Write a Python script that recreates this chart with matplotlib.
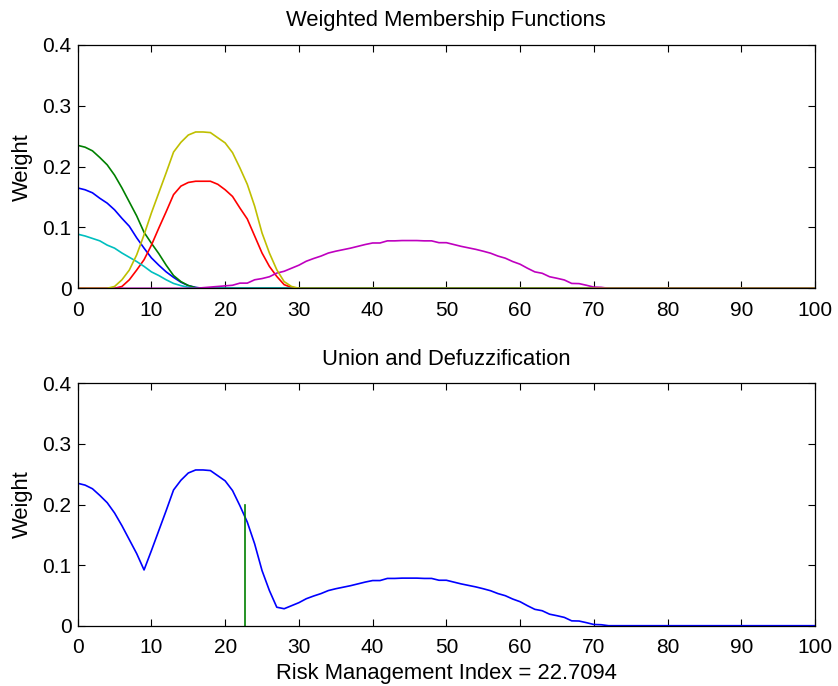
import numpy as np
import matplotlib
matplotlib.use("Agg")
import matplotlib.pyplot as plt

plt.rcParams['font.family'] = ['Liberation Sans', 'DejaVu Sans']

# sample grid of the output variable (0..100)
x = np.arange(0, 101)

blue = [0.165, 0.162, 0.157, 0.148, 0.140, 0.129, 0.115, 0.102, 0.083, 0.066,
        0.050, 0.038, 0.027, 0.018, 0.010, 0.0045, 0.0015] + [0.0] * 84
green = [0.235, 0.232, 0.226, 0.215, 0.203, 0.186, 0.165, 0.142, 0.119, 0.092,
         0.074, 0.057, 0.038, 0.021, 0.011, 0.0045, 0.001] + [0.0] * 84
red = [0.0, 0.0, 0.0, 0.0, 0.0, 0.0, 0.003, 0.014, 0.030, 0.047,
       0.071, 0.099, 0.126, 0.154, 0.168, 0.174, 0.176, 0.176, 0.176, 0.171,
       0.162, 0.151, 0.132, 0.114, 0.086, 0.058, 0.036, 0.0195, 0.006, 0.0014] + [0.0] * 71
cyan = [0.089, 0.086, 0.082, 0.078, 0.071, 0.066, 0.058, 0.051, 0.044, 0.036,
        0.027, 0.021, 0.014, 0.008, 0.0044, 0.0016] + [0.0] * 85
magenta = [0.0] * 17 + [0.001, 0.002, 0.003,
           0.004, 0.005, 0.0085, 0.0085, 0.014, 0.016, 0.019, 0.025, 0.028, 0.033,
           0.038, 0.0445, 0.049, 0.053, 0.058, 0.061, 0.0635, 0.066, 0.069, 0.072,
           0.0745, 0.0745, 0.078, 0.078, 0.0785, 0.0785, 0.0785, 0.078, 0.078, 0.075,
           0.075, 0.072, 0.069, 0.0665, 0.064, 0.061, 0.0577, 0.053, 0.0495, 0.044,
           0.0396, 0.033, 0.027, 0.0247, 0.019, 0.0165, 0.0137, 0.008, 0.0077, 0.005,
           0.002, 0.0016] + [0.0] * 29
yellow = [0.0, 0.0, 0.0, 0.0, 0.0, 0.003, 0.014, 0.030, 0.055, 0.088,
          0.124, 0.157, 0.190, 0.224, 0.240, 0.252, 0.257, 0.257, 0.256, 0.2475,
          0.239, 0.223, 0.198, 0.171, 0.135, 0.091, 0.058, 0.0305, 0.011, 0.003] + [0.0] * 71

defuzz_value = 22.7094
defuzz_height = 0.2

series = [
    (blue, (0, 0, 1)),
    (green, (0, 0.5, 0)),
    (red, (1, 0, 0)),
    (cyan, (0, 0.75, 0.75)),
    (magenta, (0.75, 0, 0.75)),
    (yellow, (0.75, 0.75, 0)),
]

union = np.max(np.array([s for s, _ in series]), axis=0)

W, H = 838, 686
fig = plt.figure(figsize=(W / 100, H / 100), dpi=100)

left = 77.7 / W
width = (815 - 77.7) / W
ax1 = fig.add_axes([left, (H - 288.3) / H, width, (288.3 - 45) / H])
ax2 = fig.add_axes([left, (H - 625.7) / H, width, (625.7 - 383.3) / H])

FS_TICK = 15
FS_LAB = 15.8
yticks = [0, 0.1, 0.2, 0.3, 0.4]
ytlabels = ['0', '0.1', '0.2', '0.3', '0.4']
xticks = list(range(0, 101, 10))

for ax in (ax1, ax2):
    ax.set_xlim(0, 100)
    ax.set_ylim(0, 0.4)
    ax.set_xticks(xticks)
    ax.set_xticklabels([str(t) for t in xticks])
    ax.set_yticks(yticks)
    ax.set_yticklabels(ytlabels)
    ax.tick_params(axis='both', direction='in', length=5, width=0.8,
                   top=True, right=True, labelsize=FS_TICK, colors='black')
    ax.tick_params(axis='x', pad=9.0)
    ax.tick_params(axis='y', pad=4.4)
    for sp in ax.spines.values():
        sp.set_linewidth(0.9)
    ax.set_ylabel('Weight', fontsize=FS_LAB, labelpad=7)

for vals, col in series:
    ax1.plot(x, vals, color=col, linewidth=1.2, solid_joinstyle='miter')

ax2.plot(x, union, color=(0, 0, 1), linewidth=1.2)
ax2.plot([defuzz_value, defuzz_value], [0, defuzz_height], color=(0, 0.5, 0), linewidth=1.2)

ax1.set_title('Weighted Membership Functions', fontsize=FS_LAB, pad=13.5)
ax2.set_title('Union and Defuzzification', fontsize=FS_LAB, pad=13.5)
ax2.set_xlabel('Risk Management Index = %.4f' % defuzz_value, fontsize=FS_LAB, labelpad=4)

fig.savefig('out.png', dpi=100)
